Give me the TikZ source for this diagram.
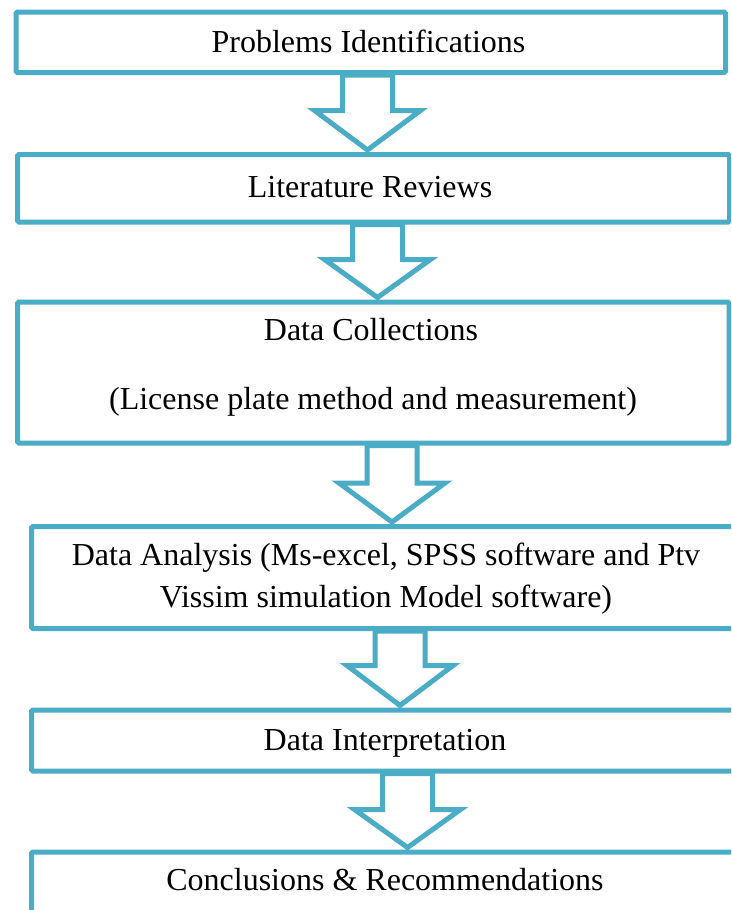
\documentclass[tikz,border=0pt]{standalone}
\usepackage{fontspec}
\setmainfont{Liberation Serif}
\usetikzlibrary{calc}
\definecolor{tealline}{RGB}{75,172,198}
\newcommand{\bigarrow}[4]{% #1 from, #2 to, #3 centre x, #4 head y
  \draw[blockarrow] let \p1=(#1.south), \p2=(#2.north) in
    (#3-25,\y1) -- (#3-25,#4) -- (#3-53,#4) -- ($(#3,\y2)+(0,-2)$) -- (#3+53,#4) -- (#3+25,#4) -- (#3+25,\y1) -- cycle;}
\begin{document}
\begin{tikzpicture}[x=1pt,y=-1pt,
  box/.style={draw=tealline, line width=5pt, fill=white, rounded corners=1.5pt, inner sep=0pt, anchor=north west},
  lbl/.style={anchor=base, inner sep=0pt, font=\fontsize{32}{38}\selectfont},
  blockarrow/.style={draw=tealline, line width=5pt, fill=white, line join=miter}]
\useasboundingbox (0,0) rectangle (731,910);
\clip (0,0) rectangle (731,910);
\fill[white] (0,0) rectangle (731,910);
% boxes
\node[box, minimum width=709.5pt, minimum height=60.5pt] (b1) at (13.5,9.5) {};
\node[box, minimum width=712pt, minimum height=67.5pt] (b2) at (15,152) {};
\node[box, minimum width=711.5pt, minimum height=141pt] (b3) at (15,299.5) {};
\node[box, minimum width=716pt, minimum height=102pt] (b4) at (29,524) {};
\node[box, minimum width=716pt, minimum height=61pt] (b5) at (29,707.5) {};
\node[box, minimum width=716pt, minimum height=120pt] (b6) at (29,849.5) {};
% labels
\node[lbl] (t1) at (368.5,52) {Problems Identifications};
\node[lbl] (t2) at (370,197) {Literature Reviews};
\node[lbl] (t3a) at (371,340) {Data Collections};
\node[lbl] (t3b) at (373,409) {(License plate method and measurement)};
\node[lbl] (t4a) at (386,565) {Data Analysis (Ms-excel, SPSS software and Ptv};
\node[lbl] (t4b) at (386,607) {Vissim simulation Model software)};
\node[lbl] (t5) at (385,750) {Data Interpretation};
\node[lbl] (t6) at (385,890) {Conclusions \& Recommendations};
% block arrows
\bigarrow{b1}{b2}{367.5}{110.5}
\bigarrow{b2}{b3}{377.5}{259.5}
\bigarrow{b3}{b4}{392}{483}
\bigarrow{b4}{b5}{400}{665.5}
\bigarrow{b5}{b6}{407.5}{809.5}
\end{tikzpicture}
\end{document}
